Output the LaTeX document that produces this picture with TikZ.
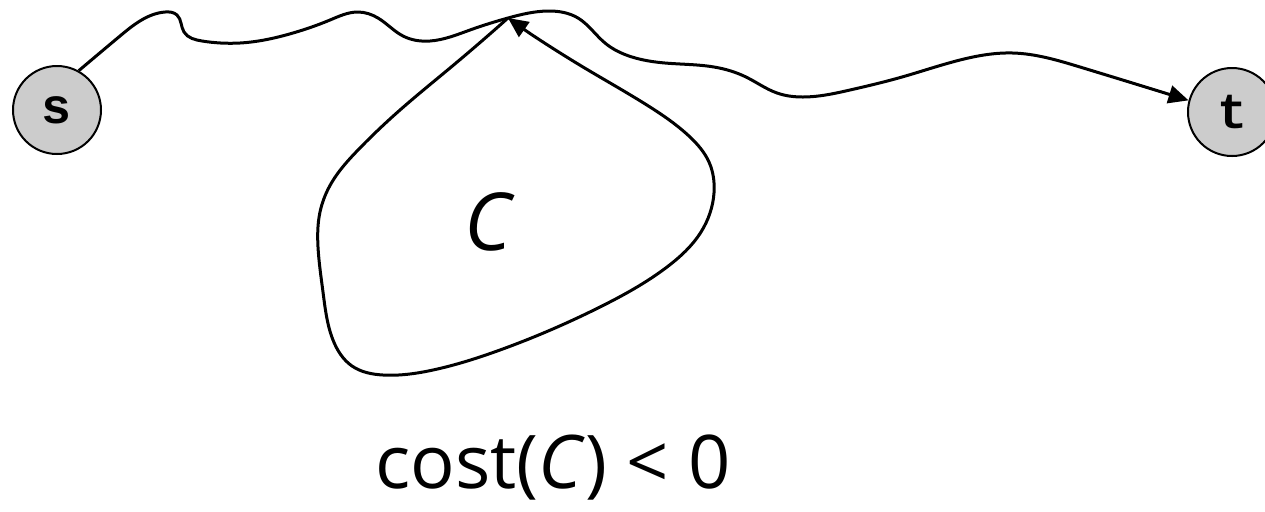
\documentclass[tikz,border=0pt]{standalone}
\usepackage{fontspec}
\setmainfont{Open Sans}
\newfontfamily\monofont{Liberation Mono}
\usetikzlibrary{arrows.meta,hobby}
\tikzset{
  vertex/.style={circle,draw=black,line width=1pt,fill=black!20,minimum size=44pt,inner sep=0pt,
    font=\monofont\bfseries\fontsize{25}{25}\selectfont},
  edge/.style={line width=1.5pt,use Hobby shortcut},
  tip/.style={-{Triangle[length=10pt,width=9pt]}},
}
\begin{document}
\begin{tikzpicture}[x=0.5pt,y=-0.5pt]
\useasboundingbox (0,0) rectangle (1265,511);
\node[vertex] (s) at (57,110) {s};
\node[vertex] (t) at (1232,112) {t};
\coordinate (J) at (508,18);
\draw[edge,tip] (s.61) .. (120,36) .. (165,12) .. (177,15) .. (184,32) .. (202,41) .. (240,43) .. (293,33)
  .. (330,20) .. (358,12) .. (378,18) .. (403,36) .. (430,41) .. (470,30) .. (J) .. (548,11) .. (578,18)
  .. (605,43) .. (632,57) .. (665,63) .. (714,67) .. (746,77) .. (777,93) .. (803,97) .. (850,90)
  .. (902,77) .. (960,60) .. (1013,53) .. (1080,67) .. (t.165);
\draw[edge,tip] (J) .. (450,68) .. (400,110) .. (358,150) .. (332,182) .. (320,212) .. (318,247)
  .. (323,292) .. (333,340) .. (352,366) .. (383,375) .. (433,370) .. (500,350) .. (600,307)
  .. (667,267) .. (701,232) .. (714,193) .. (709,162) .. (690,137) .. (650,107) .. (583,67) .. (J);
\node[font=\fontsize{40}{40}\selectfont\itshape] (c) at (488,222) {C};
\node[font=\fontsize{37}{40}\selectfont,inner sep=0pt] (cost) at (553,468) {cost(\textit{C}) < 0};
\end{tikzpicture}
\end{document}
